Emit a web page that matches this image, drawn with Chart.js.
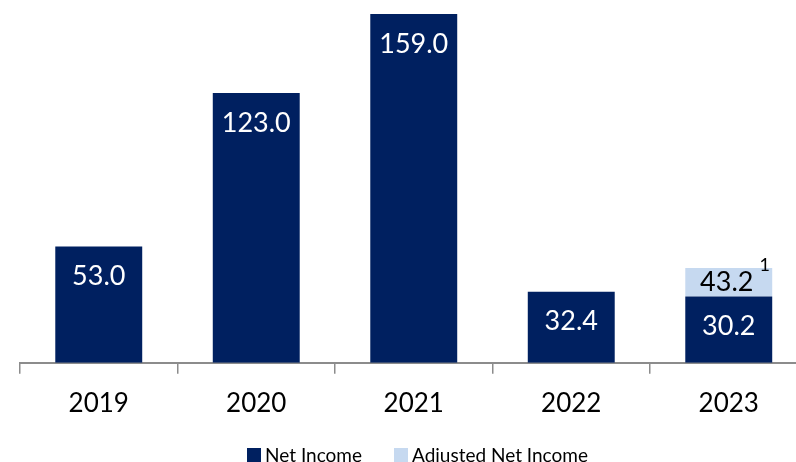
<!DOCTYPE html>
<html>
<head>
<meta charset="utf-8">
<script src="https://cdn.jsdelivr.net/npm/chart.js@4/dist/chart.umd.min.js"></script>
<style>
  html, body { margin: 0; padding: 0; background: #fff; overflow: hidden; }
  #wrap { position: relative; width: 835px; height: 462px; }
  #legend {
    position: absolute; left: 0; right: 0; top: 445px;
    display: flex; justify-content: center; align-items: center;
    font: 19px Lato, "Liberation Sans", sans-serif; color: #000; line-height: 20px;
  }
  #legend .item { display: flex; align-items: center; }
  #legend .item + .item { margin-left: 32px; }
  #legend .box { width: 14px; height: 14px; margin-right: 4px; }
</style>
</head>
<body>
<div id="wrap">
  <canvas id="chart"></canvas>
  <div id="legend"></div>
</div>
<script>
const years = ['2019', '2020', '2021', '2022', '2023'];
const netIncome = [53.0, 123.0, 159.0, 32.4, 30.2];
const adjustedNetIncome = [null, null, null, null, 43.2];
const adjustedNote = '1';

const NAVY = '#002060';
const LIGHT = '#C6D9F0';
const FONT = 'Lato, "Liberation Sans", sans-serif';

// adjusted figure floats on top of the reported one
const adjustedBars = adjustedNetIncome.map((v, i) => (v == null ? null : [netIncome[i], v]));

const valueLabels = {
  id: 'valueLabels',
  afterDatasetsDraw(chart) {
    const ctx = chart.ctx;
    ctx.save();
    ctx.textAlign = 'center';
    ctx.textBaseline = 'middle';
    chart.getDatasetMeta(0).data.forEach((bar, i) => {
      ctx.font = '27px ' + FONT;
      ctx.fillStyle = '#fff';
      ctx.fillText(netIncome[i].toFixed(1), bar.x, bar.y + 30);
    });
    chart.getDatasetMeta(1).data.forEach((bar, i) => {
      if (adjustedNetIncome[i] == null) return;
      ctx.font = '27px ' + FONT;
      ctx.fillStyle = '#000';
      ctx.fillText(adjustedNetIncome[i].toFixed(1), bar.x - 2, (bar.y + bar.base) / 2);
      ctx.font = '18px ' + FONT;
      ctx.fillText(adjustedNote, bar.x + 36, bar.y - 3);
    });
    ctx.restore();
  }
};

const chart = new Chart(document.getElementById('chart'), {
  type: 'bar',
  data: {
    labels: years,
    datasets: [
      {
        label: 'Net Income',
        data: netIncome,
        backgroundColor: NAVY,
        grouped: false,
        barPercentage: 0.552,
        categoryPercentage: 1
      },
      {
        label: 'Adjusted Net Income',
        data: adjustedBars,
        backgroundColor: LIGHT,
        grouped: false,
        barPercentage: 0.552,
        categoryPercentage: 1
      }
    ]
  },
  options: {
    responsive: true,
    maintainAspectRatio: false,
    animation: false,
    layout: { padding: { left: 20, right: 27.5, top: 0, bottom: 29 } },
    scales: {
      x: {
        grid: {
          offset: true,
          drawOnChartArea: false,
          tickLength: 11,
          color: '#8c8c8c',
          lineWidth: 1.5
        },
        border: { color: '#8c8c8c', width: 2 },
        ticks: { color: '#000', padding: 14, font: { family: FONT, size: 26 } }
      },
      y: { display: false, min: 0, max: 165.4 }
    },
    plugins: {
      legend: { display: false },
      tooltip: { enabled: false }
    }
  },
  plugins: [valueLabels]
});

// legend built from the chart's datasets
const legendEl = document.getElementById('legend');
chart.data.datasets.forEach(ds => {
  const item = document.createElement('div');
  item.className = 'item';
  const box = document.createElement('span');
  box.className = 'box';
  box.style.background = ds.backgroundColor;
  const text = document.createElement('span');
  text.textContent = ds.label;
  item.appendChild(box);
  item.appendChild(text);
  legendEl.appendChild(item);
});
</script>
</body>
</html>
